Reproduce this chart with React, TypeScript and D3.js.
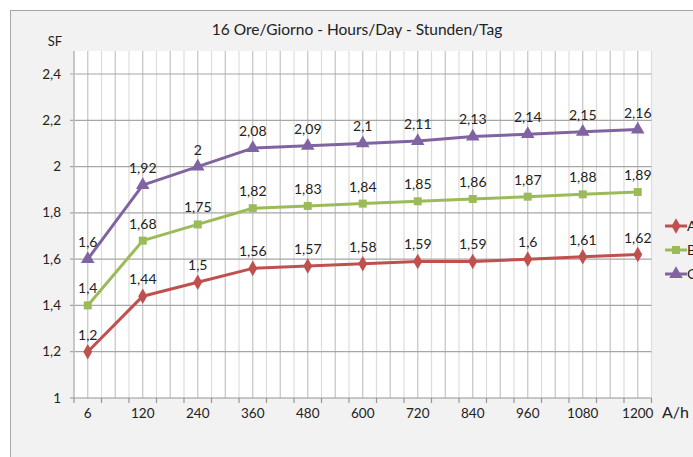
import React from "react";
import * as d3 from "d3";

const categories = ["6", "120", "240", "360", "480", "600", "720", "840", "960", "1080", "1200"];
const seriesNames = ["A", "B", "C"];
const seriesA = [1.2, 1.44, 1.5, 1.56, 1.57, 1.58, 1.59, 1.59, 1.6, 1.61, 1.62];
const seriesB = [1.4, 1.68, 1.75, 1.82, 1.83, 1.84, 1.85, 1.86, 1.87, 1.88, 1.89];
const seriesC = [1.6, 1.92, 2, 2.08, 2.09, 2.1, 2.11, 2.13, 2.14, 2.15, 2.16];
const yTicks = [1, 1.2, 1.4, 1.6, 1.8, 2, 2.2, 2.4];

const colors = ["#c0504d", "#9bbb59", "#8064a2"];
const markers = [d3.symbolDiamond, d3.symbolSquare, d3.symbolTriangle];
const markerSizes = [70, 64, 80];

const W = 693;
const H = 457;
const left = 74;
const right = 651.5;
const top = 51;
const bottom = 398;
const font = "Lato, 'Open Sans', sans-serif";

const fmt = (v: number) => String(+v.toFixed(2)).replace(".", ",");

export default function App() {
  const x = d3.scalePoint<string>().domain(categories).range([left, right]).padding(0.25);
  const y = d3.scaleLinear().domain([1, 2.4]).range([bottom, 74]);
  const step = x.step();
  const all = [seriesA, seriesB, seriesC];

  // minor vertical grid every quarter of a category step
  const grid = d3.range(0, Math.round((right - left) / (step / 4)) + 1).map((i) => ({
    pos: left + (i * step) / 4,
    dark: i % 2 === 1,
  }));
  const ticks = d3.range(0, Math.round((right - left) / (step / 2)) + 1).map((i) => left + (i * step) / 2);

  const line = d3
    .line<number>()
    .x((_, i) => x(categories[i])!)
    .y((d) => y(d));

  return (
    <svg width={W} height={H} style={{ position: "absolute", left: 0, top: 0 }} fontFamily={font}>
      <rect x={0} y={0} width={W} height={H} fill="#ffffff" />
      <rect x={10.5} y={10.5} width={W} height={H} fill="#f2f2f2" stroke="#a6a6a6" />
      <rect x={left} y={top} width={right - left} height={bottom - top} fill="#ffffff" />

      {grid.map((g, i) => (
        <line
          key={"v" + i}
          x1={g.pos}
          x2={g.pos}
          y1={top}
          y2={bottom}
          stroke={g.dark ? "#c4c4c4" : "#dcdcdc"}
          strokeWidth={1.2}
        />
      ))}
      {yTicks.slice(1).map((t) => (
        <line key={"h" + t} x1={left - 4} x2={right} y1={y(t)} y2={y(t)} stroke="#a6a6a6" strokeWidth={1.2} />
      ))}
      <line x1={left} x2={left} y1={top} y2={bottom} stroke="#bcbcbc" strokeWidth={1.5} />
      <line x1={left - 4} x2={right} y1={bottom} y2={bottom} stroke="#959595" strokeWidth={1.2} />
      {ticks.map((t, i) => (
        <line key={"t" + i} x1={t} x2={t} y1={bottom} y2={bottom + 5} stroke="#959595" strokeWidth={1.2} />
      ))}

      {yTicks.map((t) => (
        <text key={"yl" + t} x={61} y={y(t) + 4.5} textAnchor="end" fontSize={13.5} fill="#222">
          {fmt(t)}
        </text>
      ))}
      {categories.map((c) => (
        <text key={"xl" + c} x={x(c)} y={418} textAnchor="middle" fontSize={13.5} fill="#222">
          {c}
        </text>
      ))}

      <text x={357} y={35} textAnchor="middle" fontSize={15.5} fill="#222">
        16 Ore/Giorno - Hours/Day - Stunden/Tag
      </text>
      <text x={55} y={46} textAnchor="middle" fontSize={13} fill="#222">
        SF
      </text>
      <text x={662} y={418} fontSize={16} fill="#222">
        A/h
      </text>

      {all.map((s, si) => (
        <g key={"s" + si}>
          <path d={line(s)!} fill="none" stroke={colors[si]} strokeWidth={3} strokeLinejoin="round" />
          {s.map((v, i) => (
            <path
              key={i}
              d={d3.symbol().type(markers[si]).size(markerSizes[si])()!}
              transform={`translate(${x(categories[i])},${y(v)})`}
              fill={colors[si]}
            />
          ))}
          {s.map((v, i) => (
            <text key={"l" + i} x={x(categories[i])} y={y(v) - 12} textAnchor="middle" fontSize={14} fill="#222">
              {fmt(v)}
            </text>
          ))}
        </g>
      ))}

      {seriesNames.map((n, i) => {
        const ly = 226 + i * 24;
        return (
          <g key={"lg" + n}>
            <line x1={665} x2={687} y1={ly} y2={ly} stroke={colors[i]} strokeWidth={3} />
            <path
              d={d3.symbol().type(markers[i]).size(markerSizes[i])()!}
              transform={`translate(676,${ly})`}
              fill={colors[i]}
            />
            <text x={687} y={ly + 5} fontSize={14} fill="#222">
              {n}
            </text>
          </g>
        );
      })}
    </svg>
  );
}
